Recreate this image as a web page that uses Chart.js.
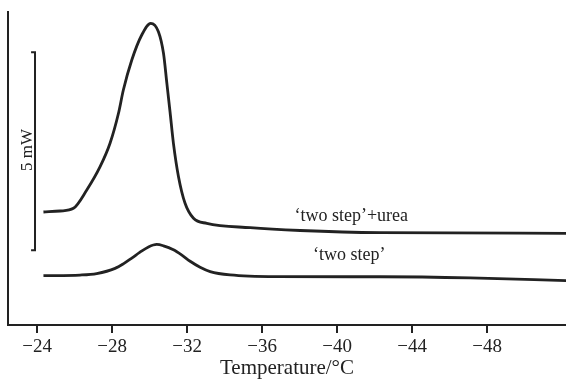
<!DOCTYPE html>
<html>
<head>
<meta charset="utf-8">
<script src="https://cdn.jsdelivr.net/npm/chart.js@4.4.1/dist/chart.umd.min.js"></script>
<style>
  html, body { margin: 0; padding: 0; background: #fff; }
  #wrap { width: 566px; height: 381px; position: relative; }
</style>
</head>
<body>
<div id="wrap"><canvas id="dsc"></canvas></div>
<script>
// --- data (temperature in °C, heat flow in mW, arbitrary offset) ---
const ureaTemps = [-24.34, -25.23, -25.94, -26.65, -27.36, -27.89, -28.34, -28.6, -29.05, -29.58, -30.06, -30.47, -30.74, -30.92, -31.09, -31.27, -31.54, -31.89, -32.34, -33.05, -35.36, -38.03, -42.29, -52.21];
const ureaHeat  = [2.853, 2.879, 2.947, 3.409, 3.997, 4.588, 5.346, 5.934, 6.692, 7.323, 7.619, 7.407, 6.861, 6.104, 5.379, 4.588, 3.745, 3.073, 2.694, 2.568, 2.457, 2.386, 2.331, 2.316];

const plainTemps = [-24.34, -26.29, -27.18, -28.16, -28.6, -29.05, -29.49, -29.94, -30.38, -30.74, -31.27, -31.72, -32.16, -32.69, -33.23, -34.29, -36.78, -42.29, -47.09, -52.21];
const plainHeat  = [1.245, 1.262, 1.3, 1.43, 1.545, 1.69, 1.84, 1.972, 2.035, 2.0, 1.9, 1.765, 1.61, 1.46, 1.35, 1.265, 1.222, 1.218, 1.19, 1.12];

// 5 mW scale bar
const scaleBarTemps = [-23.68, -23.89, -23.89, -23.68];
const scaleBarHeat  = [6.89, 6.89, 1.89, 1.89];

const tickTemps = [-24, -28, -32, -36, -40, -44, -48];

const seriesLabels = ['\u2018two step\u2019+urea', '\u2018two step\u2019'];

const toPoints = (xs, ys) => xs.map((x, i) => ({ x: x, y: ys[i] }));
const ink = '#222';
const serif = "'Liberation Serif', 'Times New Roman', serif";

// text labels placed in data coordinates
const notes = [
    { text: seriesLabels[0], x: -40.75, y: 2.75, size: 18, rot: 0 },
    { text: seriesLabels[1], x: -40.64, y: 1.77, size: 18, rot: 0 },
    { text: '5 mW', x: -23.5, y: 4.42, size: 17, rot: -Math.PI / 2 }
];

const notePlugin = {
    id: 'notes',
    afterDatasetsDraw(chart) {
        const { ctx, scales: { x, y } } = chart;
        ctx.save();
        ctx.fillStyle = ink;
        ctx.textAlign = 'center';
        ctx.textBaseline = 'middle';
        notes.forEach(n => {
            ctx.save();
            ctx.translate(x.getPixelForValue(n.x), y.getPixelForValue(n.y));
            ctx.rotate(n.rot);
            ctx.font = n.size + 'px ' + serif;
            ctx.fillText(n.text, 0, 0);
            ctx.restore();
        });
        ctx.restore();
    }
};

const lineStyle = { borderColor: ink, borderWidth: 2.8, pointRadius: 0, fill: false, cubicInterpolationMode: 'monotone' };

new Chart(document.getElementById('dsc'), {
    type: 'line',
    data: {
        datasets: [
            Object.assign({ label: seriesLabels[0], data: toPoints(ureaTemps, ureaHeat) }, lineStyle),
            Object.assign({ label: seriesLabels[1], data: toPoints(plainTemps, plainHeat) }, lineStyle),
            { label: '5 mW', data: toPoints(scaleBarTemps, scaleBarHeat), borderColor: ink, borderWidth: 2, pointRadius: 0, tension: 0, fill: false }
        ]
    },
    options: {
        responsive: true,
        maintainAspectRatio: false,
        animation: false,
        layout: { padding: { left: 8, top: 12, right: 0, bottom: 0 } },
        plugins: { legend: { display: false }, tooltip: { enabled: false } },
        scales: {
            x: {
                type: 'linear',
                reverse: true,
                min: -52.2,
                max: -22.45,
                afterBuildTicks: (scale) => { scale.ticks = tickTemps.map(v => ({ value: v })); },
                afterFit: (scale) => { scale.height = 56; },
                border: { display: true, color: ink, width: 2 },
                grid: { drawOnChartArea: false, drawTicks: true, tickLength: 8, color: ink, lineWidth: 2 },
                ticks: {
                    color: ink,
                    padding: 3,
                    maxRotation: 0,
                    font: { family: serif, size: 19 },
                    callback: (v) => String(v).replace('-', '\u2212')
                },
                title: {
                    display: true,
                    text: 'Temperature/\u00b0C',
                    color: ink,
                    font: { family: serif, size: 21 },
                    padding: { top: 0, bottom: 0 }
                }
            },
            y: {
                min: 0,
                max: 7.904,
                afterFit: (scale) => { scale.width = 0; },
                border: { display: true, color: ink, width: 2 },
                grid: { display: false },
                ticks: { display: false }
            }
        }
    },
    plugins: [notePlugin]
});
</script>
</body>
</html>
